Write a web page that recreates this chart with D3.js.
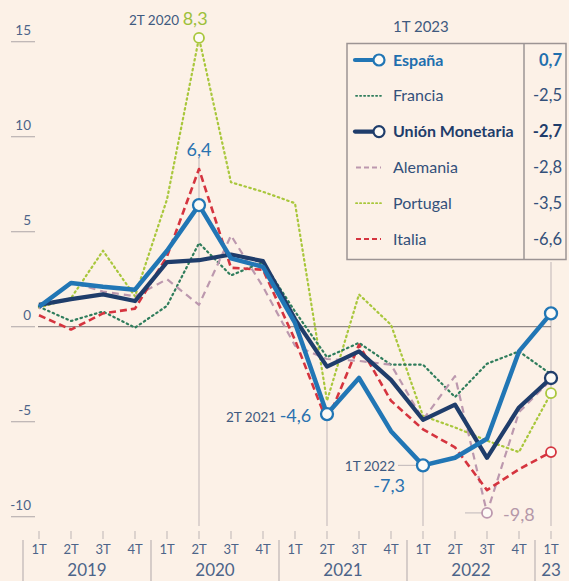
<!DOCTYPE html>
<html><head><meta charset="utf-8">
<script src="https://cdn.jsdelivr.net/npm/d3@7"></script>
<style>
html,body{margin:0;padding:0;background:#fcf1e7;}
svg{display:block;font-family:Lato,"Open Sans",sans-serif;}
</style></head>
<body>
<svg id="chart" width="569" height="581"></svg>
<script>
const quarters = ["1T","2T","3T","4T","1T","2T","3T","4T","1T","2T","3T","4T","1T","2T","3T","4T","1T"];
const years = ["2019","2020","2021","2022","23"];
const yTicks = [15,10,5,0,-5,-10];

const espana    = [1.05, 2.3, 2.1, 1.95, 4.0, 6.4, 3.6, 3.15, 0.2, -4.6, -2.7, -5.5, -7.3, -6.9, -5.9, -1.3, 0.7];
const union     = [1.15, 1.45, 1.7, 1.35, 3.4, 3.5, 3.8, 3.45, 0.4, -2.1, -1.3, -2.8, -4.9, -4.1, -6.9, -4.25, -2.7];
const francia   = [1.05, 0.3, 0.8, -0.05, 1.1, 4.4, 2.7, 3.4, 0.8, -1.6, -0.85, -2.0, -2.0, -3.7, -1.95, -1.3, -2.5];
const alemania  = [0.95, 2.35, 1.85, 1.6, 2.5, 1.15, 4.8, 2.1, -1.0, -1.7, -1.8, -2.0, -4.9, -2.6, -9.8, -4.5, -2.8];
const portugal  = [1.0, 1.5, 4.0, 1.6, 6.7, 15.2, 7.6, 7.1, 6.5, -3.9, 1.7, 0.1, -4.7, -5.3, -6.0, -6.6, -3.5];
const italia    = [0.6, -0.15, 0.7, 0.95, 3.7, 8.3, 3.1, 3.0, -0.7, -5.0, -0.95, -3.9, -5.4, -6.35, -8.6, -7.5, -6.6];

const seriesNames = ["España","Francia","Unión Monetaria","Alemania","Portugal","Italia"];
const legendValues = [0.7, -2.5, -2.7, -2.8, -3.5, -6.6];
const legendTitle = "1T 2023";

const W = 569, H = 581, BG = "#fcf1e7";
const svg = d3.select("#chart");
svg.append("rect").attr("width",W).attr("height",H).attr("fill",BG);

const x = d3.scaleLinear().domain([0,16]).range([39,551]);
const y = d3.scaleLinear().domain([-10,15]).range([516.7,41.7]);
const fmt = v => d3.format(".1f")(v).replace(".",",").replace("−","-");

const styles = {
  "España":          {data:espana,   color:"#2176b5", width:4.5, dash:null, bold:true,  txt:"#1f6fae"},
  "Francia":         {data:francia,  color:"#2f7d5c", width:2.2, dash:"1.5,3.5", bold:false, txt:"#33507a"},
  "Unión Monetaria": {data:union,    color:"#1f3d6b", width:4.2, dash:null, bold:true,  txt:"#1f3d6b"},
  "Alemania":        {data:alemania, color:"#bc98ae", width:2.2, dash:"7,5", bold:false, txt:"#33507a"},
  "Portugal":        {data:portugal, color:"#a9c73c", width:2.2, dash:"1.5,3.5", bold:false, txt:"#33507a"},
  "Italia":          {data:italia,   color:"#d5343f", width:2.6, dash:"7,4", bold:false, txt:"#33507a"}
};

const axisColor = "#4c6489";
const gridColor = "#c9c0c0";

// y axis ticks
const ya = svg.append("g");
yTicks.forEach(t => {
  ya.append("line").attr("x1",11).attr("x2",35).attr("y1",y(t)).attr("y2",y(t))
    .attr("stroke","#b9b2b2").attr("stroke-width",1.2);
  ya.append("text").attr("x",31).attr("y",y(t)-7).attr("text-anchor","end")
    .attr("font-size",13.5).attr("fill",axisColor).text(d3.format("d")(t).replace("−","-"));
});

// vertical reference lines
[[5, y(6.4)+6, 526],[9, y(-4.6)+6, 526],[12, y(-7.3)+6, 526],[16, 262, 526]].forEach(([i,y1,y2])=>{
  svg.append("line").attr("x1",x(i)).attr("x2",x(i)).attr("y1",y1).attr("y2",y2)
    .attr("stroke",gridColor).attr("stroke-width",1.2);
});
svg.append("line").attr("x1",x(5)).attr("x2",x(5)).attr("y1",158).attr("y2",y(6.4)-6)
  .attr("stroke",gridColor).attr("stroke-width",1.2);

// zero line
svg.append("line").attr("x1",38).attr("x2",x(16)).attr("y1",y(0)).attr("y2",y(0))
  .attr("stroke","#8f8787").attr("stroke-width",1.3);

// x axis
const xa = svg.append("g");
quarters.forEach((q,i)=>{
  xa.append("line").attr("x1",x(i)).attr("x2",x(i)).attr("y1",531).attr("y2",539)
    .attr("stroke","#bdb5b5").attr("stroke-width",1);
  xa.append("text").attr("x",x(i)).attr("y",554).attr("text-anchor","middle")
    .attr("font-size",13).attr("fill",axisColor).text(q);
});
[-0.5,3.5,7.5,11.5,15.5].forEach(s=>{
  xa.append("line").attr("x1",x(s)).attr("x2",x(s)).attr("y1",540).attr("y2",581)
    .attr("stroke","#bdb5b5").attr("stroke-width",1.2);
});
years.forEach((yr,k)=>{
  const cx = k<4 ? x(4*k+1.5) : x(16);
  xa.append("text").attr("x",cx).attr("y",576).attr("text-anchor","middle")
    .attr("font-size",17).attr("fill",axisColor).text(yr);
});

// lines
const line = d3.line().x((d,i)=>x(i)).y(d=>y(d));
["Portugal","Francia","Alemania","Italia","Unión Monetaria","España"].forEach(n=>{
  const s = styles[n];
  svg.append("path").datum(s.data).attr("d",line).attr("fill","none")
    .attr("stroke",s.color).attr("stroke-width",s.width)
    .attr("stroke-dasharray",s.dash).attr("stroke-linejoin","round")
    .attr("stroke-linecap", s.dash && s.dash.startsWith("1.5") ? "round" : "butt");
});

// annotation leaders
svg.append("line").attr("x1",398).attr("x2",x(12)-6).attr("y1",y(-7.3)).attr("y2",y(-7.3))
  .attr("stroke",gridColor).attr("stroke-width",1.2);
svg.append("line").attr("x1",465).attr("x2",x(14)-5).attr("y1",y(-9.8)).attr("y2",y(-9.8))
  .attr("stroke",gridColor).attr("stroke-width",1.2);

// markers
const markers = [["España",5],["España",9],["España",12],["España",16],["Unión Monetaria",16],
  ["Portugal",5],["Portugal",16],["Italia",16],["Alemania",14]];
markers.forEach(([n,i])=>{
  const s = styles[n];
  const big = (n==="España"||n==="Unión Monetaria");
  svg.append("circle").attr("cx",x(i)).attr("cy",y(s.data[i])).attr("r",big?6:5)
    .attr("fill","#fdfaf5").attr("stroke",s.color).attr("stroke-width",big?2.3:1.8);
});

// annotations text
function ann(xp, yp, parts, anchor){
  const t = svg.append("text").attr("x",xp).attr("y",yp).attr("text-anchor",anchor||"start");
  parts.forEach(p=>t.append("tspan").attr("font-size",p[2]).attr("fill",p[1]).text(p[0]));
  return t;
}
ann(129, 25, [["2T 2020 ","#3f5a7f",13.5],["8,3","#9dc03a",18]]);
ann(x(5), 156, [[fmt(6.4),"#2a72b0",18]], "middle");
ann(226, 422, [["2T 2021 ","#3f5a7f",13.5],[fmt(-4.6),"#2a72b0",18]]);
ann(395, 471, [["1T 2022","#3f5a7f",13.5]], "end");
ann(405, 492, [[fmt(-7.3),"#2a72b0",18]], "end");
ann(503, 521, [[fmt(-9.8),"#b598a9",18]]);

// legend
const lg = svg.append("g");
lg.append("text").attr("x",393).attr("y",32).attr("font-size",15).attr("fill","#3f5a7f").text(legendTitle);
lg.append("rect").attr("x",347).attr("y",43.5).attr("width",219).attr("height",216)
  .attr("fill","none").attr("stroke","#9c9494").attr("stroke-width",1.5);
lg.append("line").attr("x1",524).attr("x2",524).attr("y1",43.5).attr("y2",259.5)
  .attr("stroke","#9c9494").attr("stroke-width",1.5);
seriesNames.forEach((n,k)=>{
  const s = styles[n];
  const cy = 60 + k*35.8;
  const big = (n==="España"||n==="Unión Monetaria");
  if(big){
    lg.append("line").attr("x1",355).attr("x2",376).attr("y1",cy).attr("y2",cy)
      .attr("stroke",s.color).attr("stroke-width",4.2).attr("stroke-linecap","round");
    lg.append("circle").attr("cx",379).attr("cy",cy).attr("r",5.5)
      .attr("fill","#fdfaf5").attr("stroke",s.color).attr("stroke-width",2.2);
  } else {
    lg.append("line").attr("x1",356).attr("x2",381).attr("y1",cy).attr("y2",cy)
      .attr("stroke",s.color).attr("stroke-width",s.dash.startsWith("1.5")?1.8:2)
      .attr("stroke-dasharray", s.dash.startsWith("1.5") ? "1.2,2.8" : "5,3")
      .attr("stroke-linecap", s.dash.startsWith("1.5") ? "round" : "butt");
  }
  lg.append("text").attr("x",393).attr("y",cy+5.5).attr("font-size",16)
    .attr("font-weight",s.bold?"bold":"normal").attr("fill",s.txt).text(n);
  lg.append("text").attr("x",562).attr("y",cy+5.5).attr("text-anchor","end").attr("font-size",16.5)
    .attr("font-weight",s.bold?"bold":"normal").attr("fill",s.txt).text(fmt(legendValues[k]));
});
</script>
</body></html>
